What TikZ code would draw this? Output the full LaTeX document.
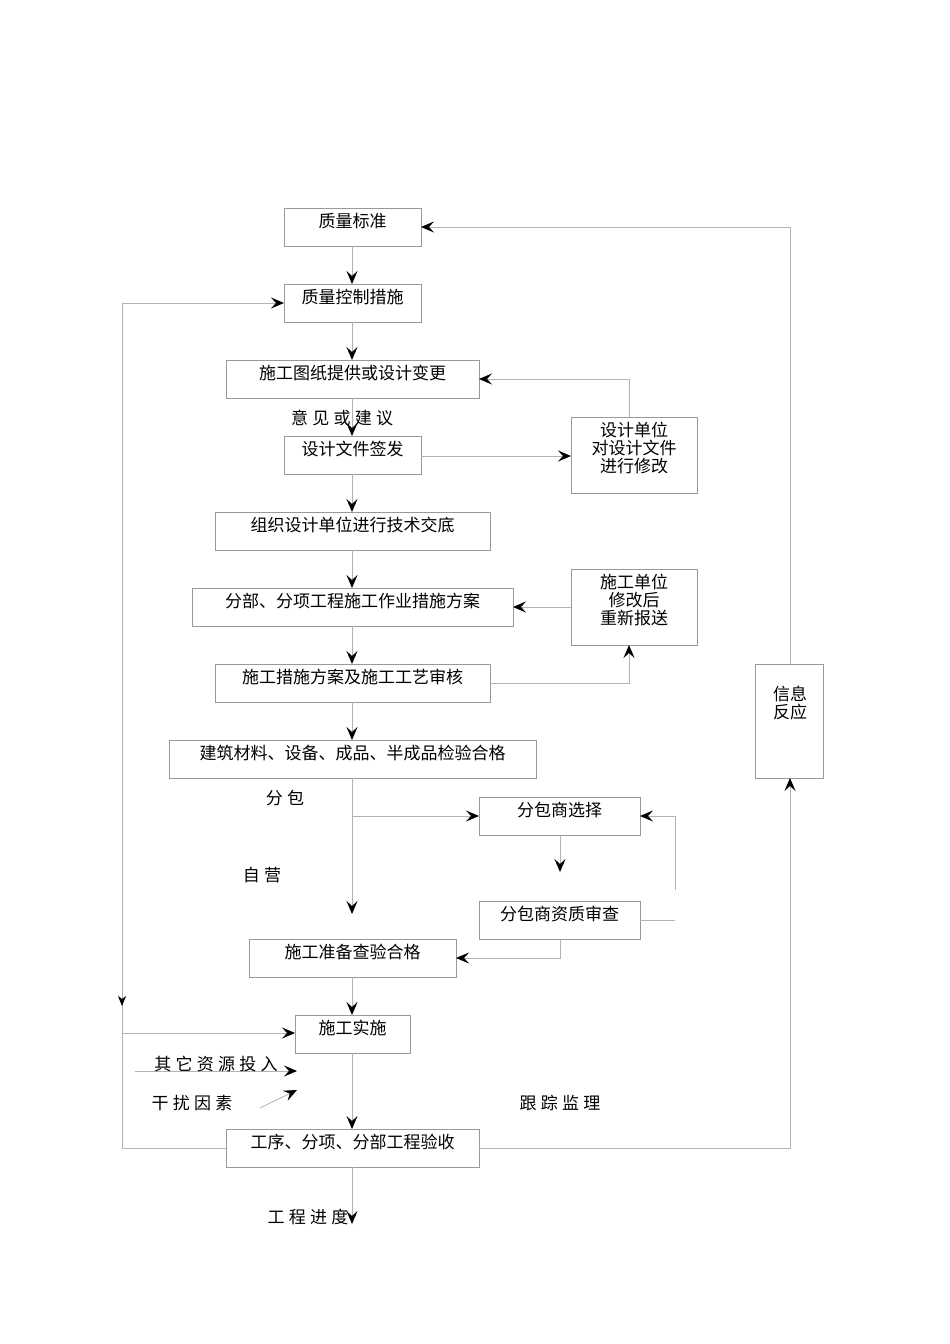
\documentclass[tikz,border=0pt]{standalone}
\usepackage{fontspec}
\setmainfont{Noto Sans CJK SC}
\newfontfamily\spc[LetterSpace=25]{Noto Sans CJK SC}
\usetikzlibrary{arrows.meta}
\begin{document}
\begin{tikzpicture}[x=1pt,y=-1pt,
  bx/.style={draw=black!40,line width=0.8pt,inner sep=0pt,font=\fontsize{17}{21}\selectfont},
  ln/.style={draw=black!30,line width=0.8pt},
  ar/.style={ln,-{Stealth[length=13pt,width=11pt,inset=5pt,black]}},
  lb/.style={font=\spc\fontsize{17}{21}\selectfont}]
\useasboundingbox (0,0) rectangle (950,1344);
\newcommand\bb[6]{\node[bx,minimum width=#4-#2,minimum height=#5-#3,anchor=north west,align=center] (#1) at (#2,#3) {};
  \node[bx,draw=none,anchor=north,align=center] at ($(#2/2+#4/2,#3+4)$) {#6};}
\def\B#1#2#3#4#5#6{\draw[draw=black!40,line width=0.8pt] (#2,#3) rectangle (#4,#5);
  \coordinate (#1) at (#2/2+#4/2,#3/2+#5/2);
  \node[bx,draw=none,anchor=north,align=center] at (#2/2+#4/2,#3+5) {#6};}
\B{a}{284}{208}{421}{246}{质量标准}
\B{b}{284}{284}{421}{322}{质量控制措施}
\B{c}{226}{360}{479}{398}{施工图纸提供或设计变更}
\B{d}{284}{436}{421}{474}{设计文件签发}
\B{e}{571}{417}{697}{493}{设计单位\\[-3pt]对设计文件\\[-3pt]进行修改}
\B{f}{215}{512}{490}{550}{组织设计单位进行技术交底}
\B{g}{192}{588}{513}{626}{分部、分项工程施工作业措施方案}
\B{h}{571}{569}{697}{645}{施工单位\\[-3pt]修改后\\[-3pt]重新报送}
\B{i}{215}{664}{490}{702}{施工措施方案及施工工艺审核}
\B{j}{169}{740}{536}{778}{建筑材料、设备、成品、半成品检验合格}
\B{k}{479}{797}{640}{835}{分包商选择}
\B{l}{479}{901}{640}{939}{分包商资质审查}
\B{m}{249}{939}{456}{977}{施工准备查验合格}
\B{n}{295}{1015}{410}{1053}{施工实施}
\B{o}{226}{1129}{479}{1167}{工序、分项、分部工程验收}
\B{p}{755}{664}{823}{778}{}
\node[bx,draw=none,align=center,anchor=north] at (790,686) {信息\\[-3pt]反应};
% spine
\draw[ar] (352,246) -- (352,284);
\draw[ar] (352,322) -- (352,360);
\draw[ar] (352,398) -- (352,436);
\draw[ar] (352,474) -- (352,512);
\draw[ar] (352,550) -- (352,588);
\draw[ar] (352,626) -- (352,664);
\draw[ar] (352,702) -- (352,740);
\draw[ar] (352,778) -- (352,914);
\draw[ar] (352,977) -- (352,1015);
\draw[ar] (352,1053) -- (352,1129);
\draw[ar] (352,1167) -- (352,1224);
% right side loops
\draw[ar] (421,456) -- (571,456);
\draw[ar] (629,417) -- (629,379) -- (479,379);
\draw[ar] (490,683) -- (629,683) -- (629,645);
\draw[ar] (571,607) -- (513,607);
\draw[ar] (352,816) -- (479,816);
\draw[ar] (560,835) -- (560,872);
\draw[ln] (640,920) -- (675,920);
\draw[ar] (675,890) -- (675,816) -- (640,816);
\draw[ar] (560,939) -- (560,958) -- (456,958);
% outer loops
\draw[ar] (226,1148) -- (122,1148) -- (122,303) -- (284,303);
\draw[-{Stealth[length=10pt,width=8pt,inset=3pt,black]},ln] (122,990) -- (122,1006);
\draw[-{Stealth[length=13pt,width=11pt,inset=5pt,black]},draw=none] (122,1010) -- (122,1033);
\draw[ar] (122,1033) -- (295,1033);
\draw[ar] (479,1148) -- (790,1148) -- (790,778);
\draw[ar] (790,664) -- (790,227) -- (421,227);
\draw[ar] (135,1071) -- (297,1071);
\draw[ar] (260,1108) -- (297,1090);
% labels
\node[lb] at (342,418) {意见或建议};
\node[lb] at (285,798) {分包};
\node[lb] at (262,875) {自营};
\node[lb] at (560,1103) {跟踪监理};
\node[lb] at (308,1217) {工程进度};
\node[lb] at (216,1064) {其它资源投入};
\node[lb] at (192,1103) {干扰因素};
\end{tikzpicture}
\end{document}
